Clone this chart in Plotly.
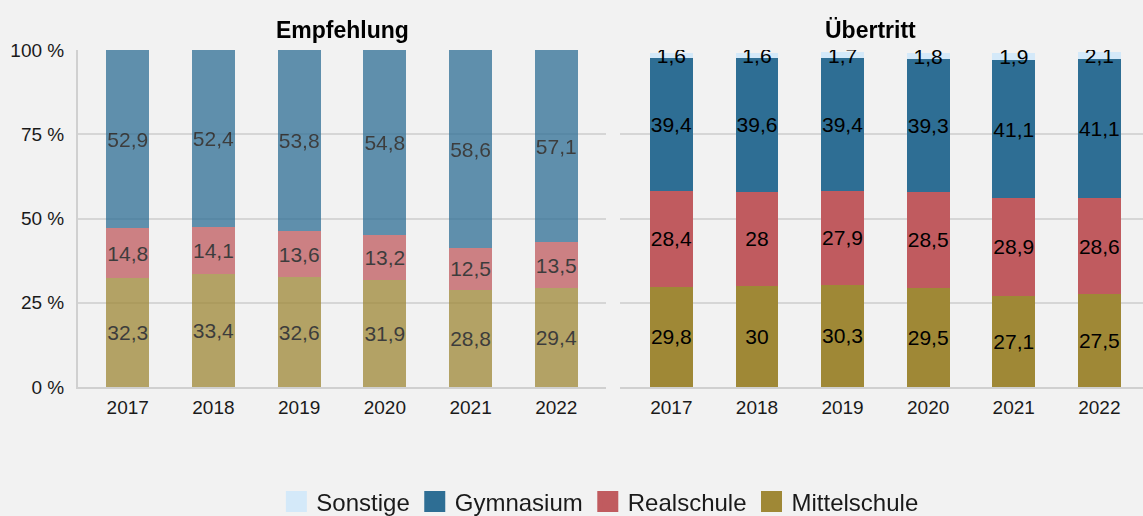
import plotly.graph_objects as go

years = ["2017", "2018", "2019", "2020", "2021", "2022"]
series = ["Mittelschule", "Realschule", "Gymnasium", "Sonstige"]
emp_mittel = [32.3, 33.4, 32.6, 31.9, 28.8, 29.4]
emp_real = [14.8, 14.1, 13.6, 13.2, 12.5, 13.5]
emp_gym = [52.9, 52.4, 53.8, 54.8, 58.6, 57.1]
ueb_mittel = [29.8, 30, 30.3, 29.5, 27.1, 27.5]
ueb_real = [28.4, 28, 27.9, 28.5, 28.9, 28.6]
ueb_gym = [39.4, 39.6, 39.4, 39.3, 41.1, 41.1]
ueb_sonst = [1.6, 1.6, 1.7, 1.8, 1.9, 2.1]
y_ticks = [0, 25, 50, 75, 100]
y_tick_labels = ["0 %", "25 %", "50 %", "75 %", "100 %"]

colors = {"Mittelschule": "#9f8836", "Realschule": "#c05b5f",
          "Gymnasium": "#2e6e94", "Sonstige": "#d4e9f9"}
FONT = "Liberation Sans, Arial, sans-serif"
BG = "#f2f2f2"
GRID = "#d6d6d6"


def fmt(v):
    return (f"{v:g}").replace(".", ",")


fig = go.Figure()

emp = {"Mittelschule": emp_mittel, "Realschule": emp_real, "Gymnasium": emp_gym}
ueb = {"Mittelschule": ueb_mittel, "Realschule": ueb_real, "Gymnasium": ueb_gym,
       "Sonstige": ueb_sonst}

for name, vals in emp.items():
    fig.add_trace(go.Bar(
        x=years, y=vals, name=name, marker=dict(color=colors[name], line=dict(width=0)),
        opacity=0.75, width=0.5, text=[fmt(v) for v in vals],
        textposition="inside", insidetextanchor="middle", textangle=0,
        constraintext="none", textfont=dict(color="#000000", size=21, family=FONT),
        showlegend=False, hoverinfo="skip", xaxis="x", yaxis="y"))

for name, vals in ueb.items():
    fig.add_trace(go.Bar(
        x=years, y=vals, name=name, marker=dict(color=colors[name], line=dict(width=0)),
        width=0.5, text=[fmt(v) for v in vals],
        textposition="inside", insidetextanchor="middle", textangle=0,
        constraintext="none", textfont=dict(color="#000000", size=21, family=FONT),
        showlegend=False, hoverinfo="skip", xaxis="x2", yaxis="y2"))

for name in ["Sonstige", "Gymnasium", "Realschule", "Mittelschule"]:
    fig.add_trace(go.Scatter(
        x=[None], y=[None], mode="markers", name=name,
        marker=dict(symbol="square", size=16, color=colors[name],
                    line=dict(width=5, color=colors[name])),
        showlegend=True, xaxis="x", yaxis="y"))

L0, R0 = (606 - 78) / 1065, (620 - 78) / 1065

xcommon = dict(type="category", showgrid=False, showline=True, linecolor="#d0d0d0",
               linewidth=2, ticks="outside", ticklen=2, tickcolor="rgba(0,0,0,0)",
               tickfont=dict(size=19, color="#1a1a1a", family=FONT), zeroline=False,
               fixedrange=True)
ycommon = dict(range=[0, 100], tickmode="array", tickvals=y_ticks, showgrid=True,
               gridcolor=GRID, gridwidth=2, zeroline=False, fixedrange=True)

fig.update_layout(
    width=1143, height=516,
    margin=dict(l=78, r=0, t=50, b=129, autoexpand=False),
    paper_bgcolor=BG, plot_bgcolor=BG,
    barmode="stack",
    font=dict(family=FONT, color="#1a1a1a"),
    xaxis=dict(domain=[0, L0], range=[-0.58, 5.58], **xcommon),
    xaxis2=dict(domain=[R0, 1], range=[-0.6, 5.51], anchor="y2", **xcommon),
    yaxis=dict(ticktext=y_tick_labels, showticklabels=True, showline=True,
               linecolor="#d0d0d0", linewidth=2, ticks="outside", ticklen=8,
               tickcolor="rgba(0,0,0,0)",
               tickfont=dict(size=19, color="#1a1a1a", family=FONT), **ycommon),
    yaxis2=dict(anchor="x2", showticklabels=False, showline=False, **ycommon),
    legend=dict(orientation="h", traceorder="normal", x=0.49, xanchor="center",
                y=-0.341, yanchor="middle",
                font=dict(size=24, color="#1a1a1a", family=FONT),
                bgcolor="rgba(0,0,0,0)", itemclick=False, itemdoubleclick=False),
    annotations=[
        dict(text="<b>Empfehlung</b>", x=(342 - 78) / 1065, y=1, xref="paper", yref="paper",
             xanchor="center", yanchor="bottom", yshift=5, showarrow=False,
             font=dict(size=23, color="#000000", family=FONT)),
        dict(text="<b>Übertritt</b>", x=(870 - 78) / 1065, y=1, xref="paper", yref="paper",
             xanchor="center", yanchor="bottom", yshift=5, showarrow=False,
             font=dict(size=23, color="#000000", family=FONT)),
    ],
)

fig.write_html(
    "out.html",
    config={"displayModeBar": False},
    post_script="document.body.style.margin='0';document.body.style.padding='0';"
                "document.body.style.background='#f2f2f2';"
                "document.body.style.overflow='hidden';",
)
